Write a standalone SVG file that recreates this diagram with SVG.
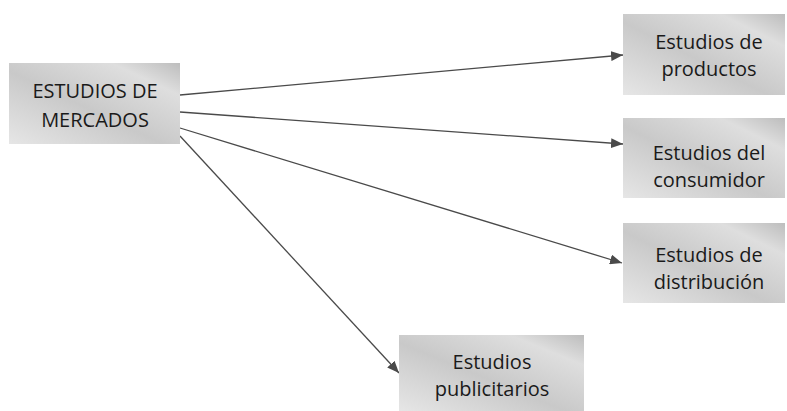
<svg xmlns="http://www.w3.org/2000/svg" width="787" height="411" viewBox="0 0 787 411">
  <defs>
    <linearGradient id="boxFill" x1="0" y1="1" x2="1" y2="0">
      <stop offset="0" stop-color="#e6e6e6"/>
      <stop offset="0.45" stop-color="#c9c9c9"/>
      <stop offset="0.8" stop-color="#dedede"/>
      <stop offset="1" stop-color="#bdbdbd"/>
    </linearGradient>
    <marker id="arrow" viewBox="0 0 12 10" refX="12" refY="5" markerWidth="12" markerHeight="10" markerUnits="userSpaceOnUse" orient="auto">
      <path d="M0,0 L12,5 L0,10 Z" fill="#4a4a4a"/>
    </marker>
    <style>
      .box { fill: url(#boxFill); }
      .label { font-family: "Open Sans", "Noto Sans", sans-serif; font-size: 20px; fill: #1a1a1a; text-anchor: middle; }
      .link { stroke: #4a4a4a; stroke-width: 1.3; fill: none; marker-end: url(#arrow); }
    </style>
  </defs>

  <g id="connectors">
    <line class="link" x1="180" y1="95" x2="623" y2="55"/>
    <line class="link" x1="180" y1="112" x2="623" y2="144"/>
    <line class="link" x1="180" y1="128" x2="622" y2="263"/>
    <line class="link" x1="180" y1="136" x2="399" y2="373"/>
  </g>

  <g id="estudios-de-mercados">
    <rect class="box" x="9" y="63" width="171" height="81"/>
    <text class="label" x="95" y="98">ESTUDIOS DE</text>
    <text class="label" x="95" y="127">MERCADOS</text>
  </g>

  <g id="estudios-de-productos">
    <rect class="box" x="623" y="14" width="162" height="81"/>
    <text class="label" x="709" y="49">Estudios de</text>
    <text class="label" x="709" y="76">productos</text>
  </g>

  <g id="estudios-del-consumidor">
    <rect class="box" x="623" y="118" width="162" height="80"/>
    <text class="label" x="709" y="160">Estudios del</text>
    <text class="label" x="709" y="187">consumidor</text>
  </g>

  <g id="estudios-de-distribucion">
    <rect class="box" x="623" y="223" width="162" height="80"/>
    <text class="label" x="709" y="262">Estudios de</text>
    <text class="label" x="709" y="289">distribución</text>
  </g>

  <g id="estudios-publicitarios">
    <rect class="box" x="399" y="335" width="185" height="76"/>
    <text class="label" x="492" y="369">Estudios</text>
    <text class="label" x="492" y="396">publicitarios</text>
  </g>
</svg>
